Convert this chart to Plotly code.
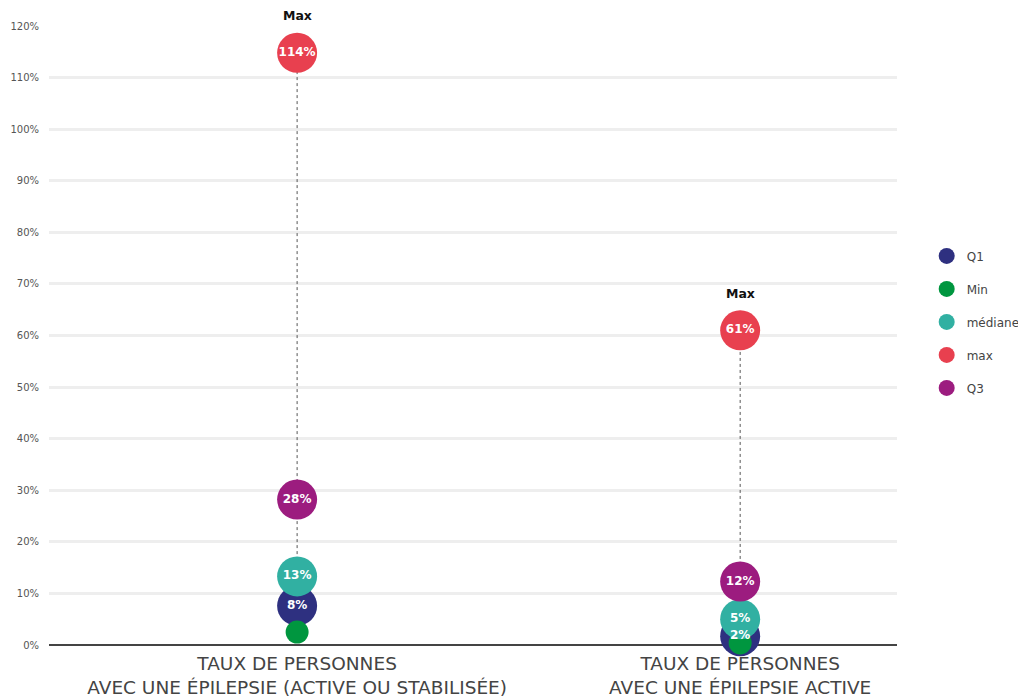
import plotly.graph_objects as go

# two categories, five stats each
categories = [
    "TAUX DE PERSONNES<br>AVEC UNE ÉPILEPSIE (ACTIVE OU STABILISÉE)",
    "TAUX DE PERSONNES<br>AVEC UNE ÉPILEPSIE ACTIVE",
]
cat_pos = [0, 1]

series_names = ["Q1", "Min", "médiane", "max", "Q3"]
q1_vals = [7.6, 1.7]
min_vals = [2.5, 0.4]
med_vals = [13.3, 5.0]
max_vals = [114.8, 61.0]
q3_vals = [28.2, 12.3]

q1_text = ["8%", "2%"]
min_text = ["", ""]
med_text = ["13%", "5%"]
max_text = ["114%", "61%"]
q3_text = ["28%", "12%"]

colors = ["#2e3080", "#00963f", "#31b0a2", "#e8404f", "#9c1c7f"]
sizes = [40, 23, 40, 40, 40]

y_ticks = list(range(0, 121, 10))
y_ticktext = [f"{v}%" for v in y_ticks]

FONT = "DejaVu Sans"

fig = go.Figure()

# dotted range line min -> max
for i in range(len(cat_pos)):
    fig.add_trace(go.Scatter(
        x=[cat_pos[i], cat_pos[i]],
        y=[min_vals[i], max_vals[i]],
        mode="lines",
        line=dict(color="#555555", width=1, dash="dot"),
        showlegend=False,
        hoverinfo="skip",
    ))

all_vals = [q1_vals, min_vals, med_vals, max_vals, q3_vals]
all_text = [q1_text, min_text, med_text, max_text, q3_text]

for name, vals, col, sz in zip(series_names, all_vals, colors, sizes):
    fig.add_trace(go.Scatter(
        x=cat_pos,
        y=vals,
        mode="markers",
        name=name,
        legendgroup=name,
        marker=dict(color=col, size=sz, line=dict(width=0)),
        cliponaxis=False,
    ))

# labels on top of all bubbles
for vals, txt in zip(all_vals, all_text):
    fig.add_trace(go.Scatter(
        x=cat_pos,
        y=vals,
        mode="text",
        text=txt,
        textposition="middle center",
        textfont=dict(color="white", size=12, family=FONT, weight="bold"),
        showlegend=False,
        hoverinfo="skip",
        cliponaxis=False,
    ))

for i in range(len(cat_pos)):
    fig.add_annotation(
        x=cat_pos[i], y=max_vals[i], yshift=37,
        text="<b>Max</b>", showarrow=False,
        font=dict(size=12.5, color="#111111", family=FONT),
    )

# page body has an 8px margin, so the plot box is offset accordingly
fig.update_layout(
    width=1026, height=697,
    paper_bgcolor="white", plot_bgcolor="white",
    margin=dict(l=41, r=137, t=18, b=60, autoexpand=False),
    font=dict(family=FONT, color="#444444"),
    legend=dict(
        x=1.035, xanchor="left", y=0.522, yanchor="middle",
        font=dict(size=12, color="#444444"),
        tracegroupgap=14,
        itemsizing="trace",
    ),
    xaxis=dict(
        range=[-0.56, 1.354],
        tickmode="array", tickvals=cat_pos, ticktext=categories,
        tickfont=dict(size=18.5, color="#444444"),
        ticklabelstandoff=5,
        showgrid=False, zeroline=False,
        showline=False, ticks="", automargin=False,
    ),
    yaxis=dict(
        range=[0, 120],
        tickmode="array", tickvals=y_ticks, ticktext=y_ticktext,
        tickfont=dict(size=10, color="#555555"),
        ticklabelstandoff=9,
        showgrid=True, gridcolor="#eeeeee", gridwidth=3,
        zeroline=True, zerolinecolor="#444444", zerolinewidth=2,
        showline=False, ticks="", automargin=False,
    ),
)

fig.write_html("out.html")
